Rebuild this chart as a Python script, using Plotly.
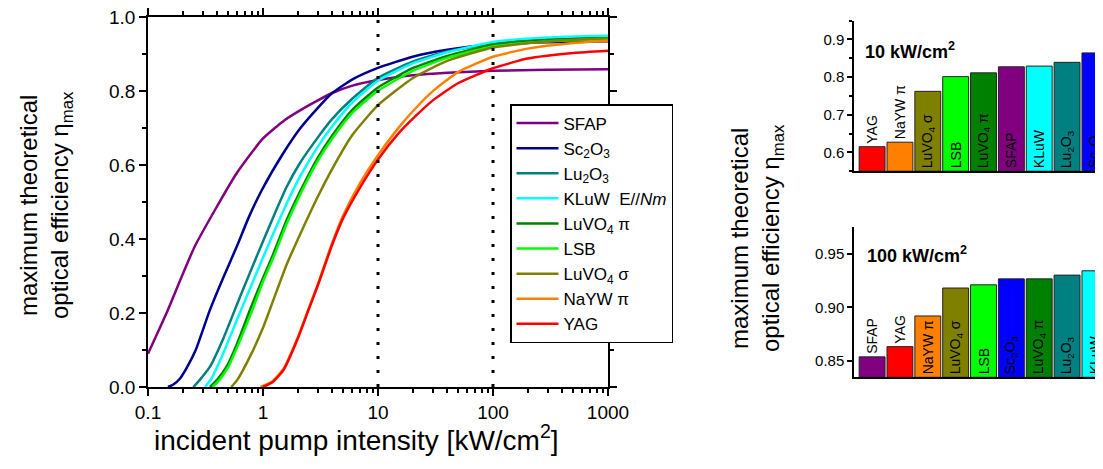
import plotly.graph_objects as go

W, H = 1103, 469
OFF = 8  # default body margin of the html page
FONT = "Liberation Sans, Arial, sans-serif"

# ---- main chart: eta_max vs incident pump intensity (kW/cm^2) ----
sfap_x = [0.1, 0.145, 0.255, 0.59, 1.0, 1.55, 2.1, 3, 4, 6, 10, 20, 40, 100, 300, 1000]
sfap_y = [0.09, 0.2, 0.38, 0.578, 0.672, 0.722, 0.748, 0.775, 0.795, 0.815, 0.83, 0.843, 0.85, 0.855, 0.858, 0.859]

sc2o3_x = [0.149, 0.165, 0.19, 0.22, 0.26, 0.345, 0.45, 0.59, 0.75, 0.975, 1.5, 2.1, 3, 4, 6, 10, 20, 40, 100, 300, 1000]
sc2o3_y = [0.0, 0.006, 0.023, 0.055, 0.10, 0.208, 0.295, 0.379, 0.458, 0.532, 0.632, 0.699, 0.755, 0.795, 0.832, 0.863, 0.893, 0.912, 0.926, 0.932, 0.935]

lu2o3_x = [0.248, 0.28, 0.346, 0.45, 0.632, 0.9, 1.23, 1.6, 2.09, 3, 4, 6, 10, 20, 40, 100, 300, 1000]
lu2o3_y = [0.0, 0.018, 0.055, 0.13, 0.244, 0.36, 0.46, 0.54, 0.605, 0.675, 0.725, 0.78, 0.836, 0.88, 0.907, 0.929, 0.94, 0.945]

kluw_x = [0.313, 0.36, 0.451, 0.6, 0.72, 1.0, 1.23, 1.6, 2.09, 3, 4, 6, 10, 20, 40, 100, 300, 1000]
kluw_y = [0.0, 0.025, 0.091, 0.185, 0.244, 0.35, 0.415, 0.495, 0.568, 0.65, 0.705, 0.77, 0.828, 0.875, 0.905, 0.933, 0.945, 0.95]

luvo4pi_x = [0.346, 0.4, 0.482, 0.6, 0.77, 1.0, 1.23, 1.6, 2.09, 3, 4, 6, 10, 20, 40, 100, 300, 1000]
luvo4pi_y = [0.0, 0.02, 0.055, 0.12, 0.208, 0.295, 0.36, 0.45, 0.527, 0.62, 0.68, 0.75, 0.81, 0.862, 0.895, 0.926, 0.938, 0.943]

lsb_x = [0.365, 0.42, 0.5, 0.62, 0.8, 1.0, 1.25, 1.6, 2.1, 3, 4, 6, 10, 20, 40, 100, 300, 1000]
lsb_y = [0.0, 0.02, 0.055, 0.12, 0.205, 0.285, 0.355, 0.44, 0.52, 0.612, 0.672, 0.742, 0.801, 0.855, 0.89, 0.921, 0.934, 0.94]

luvo4s_x = [0.53, 0.6, 0.77, 1.0, 1.23, 1.6, 2.09, 3, 4, 6, 10, 20, 40, 100, 300, 1000]
luvo4s_y = [0.0, 0.02, 0.082, 0.16, 0.235, 0.33, 0.411, 0.515, 0.59, 0.682, 0.762, 0.835, 0.882, 0.918, 0.935, 0.943]

naywpi_x = [0.95, 1.2, 1.5, 2.0, 2.5, 3.0, 4.0, 5.0, 7.0, 10, 15, 20, 30, 50, 100, 200, 500, 1000]
naywpi_y = [0.0, 0.015, 0.048, 0.133, 0.213, 0.278, 0.39, 0.465, 0.552, 0.627, 0.70, 0.745, 0.80, 0.852, 0.893, 0.915, 0.93, 0.936]

yag_x = [1.0, 1.2, 1.5, 2.0, 2.5, 3.0, 4.0, 5.0, 7.0, 10, 15, 20, 30, 50, 100, 200, 500, 1000]
yag_y = [0.0, 0.012, 0.045, 0.13, 0.21, 0.275, 0.385, 0.458, 0.54, 0.615, 0.685, 0.725, 0.775, 0.822, 0.862, 0.888, 0.903, 0.909]

curve_names = ["SFAP", "Sc<sub>2</sub>O<sub>3</sub>", "Lu<sub>2</sub>O<sub>3</sub>",
               "KLuW  E//<i>Nm</i>", "LuVO<sub>4</sub> π", "LSB",
               "LuVO<sub>4</sub> σ", "NaYW π", "YAG"]
curve_colors = ["#800080", "#000090", "#008080", "#00FFFF", "#008000",
                "#00FF00", "#808000", "#FF8000", "#FF0000"]
curve_x = [sfap_x, sc2o3_x, lu2o3_x, kluw_x, luvo4pi_x, lsb_x, luvo4s_x, naywpi_x, yag_x]
curve_y = [sfap_y, sc2o3_y, lu2o3_y, kluw_y, luvo4pi_y, lsb_y, luvo4s_y, naywpi_y, yag_y]

marker_intensities = [10, 100]
main_yticks = [0.0, 0.2, 0.4, 0.6, 0.8, 1.0]
main_xticks = [0.1, 1, 10, 100, 1000]

# ---- bar charts at 10 and 100 kW/cm^2 ----
bars10_names = ["YAG", "NaYW π", "LuVO<sub>4</sub> σ", "LSB", "LuVO<sub>4</sub> π",
                "SFAP", "KLuW", "Lu<sub>2</sub>O<sub>3</sub>", "Sc<sub>2</sub>O<sub>3</sub>"]
bars10_vals = [0.615, 0.627, 0.762, 0.801, 0.811, 0.827, 0.829, 0.839, 0.864]
bars10_colors = ["#FF0000", "#FF8000", "#808000", "#00FF00", "#008000",
                 "#800080", "#00FFFF", "#008080", "#0000FF"]

bars100_names = ["SFAP", "YAG", "NaYW π", "LuVO<sub>4</sub> σ", "LSB",
                 "Sc<sub>2</sub>O<sub>3</sub>", "LuVO<sub>4</sub> π", "Lu<sub>2</sub>O<sub>3</sub>", "KLuW"]
bars100_vals = [0.854, 0.8635, 0.892, 0.918, 0.921, 0.9265, 0.9265, 0.930, 0.934]
bars100_colors = ["#800080", "#FF0000", "#FF8000", "#808000", "#00FF00",
                  "#0000FF", "#008000", "#008080", "#00FFFF"]

top_range = [0.55, 0.95]
bot_range = [0.835, 0.975]


def px(v):
    return (v - OFF) / W


def py(v):
    return 1 - (v - OFF) / H


fig = go.Figure()

for name, color, xs, ys in zip(curve_names, curve_colors, curve_x, curve_y):
    fig.add_trace(go.Scatter(x=xs, y=ys, name=name, mode="lines",
                             line=dict(color=color, width=2.5, shape="spline", smoothing=0.5),
                             xaxis="x", yaxis="y"))

for xi in marker_intensities:
    fig.add_trace(go.Scatter(x=[xi, xi], y=[0, 1], mode="lines", showlegend=False,
                             line=dict(color="black", width=3, dash="3px,11px"),
                             xaxis="x", yaxis="y"))


def bar_trace(names, vals, colors, rng, ax, n_out):
    base = rng[0]
    return go.Bar(
        x=list(range(len(vals))), y=[v - base for v in vals], base=base,
        text=names, textangle=-90,
        textposition=["outside"] * n_out + ["inside"] * (len(vals) - n_out),
        insidetextanchor="start", constraintext="none",
        textfont=dict(family=FONT, size=14, color="black"),
        marker=dict(color=colors, line=dict(color="#222222", width=1)),
        width=0.93, showlegend=False, cliponaxis=False,
        xaxis="x" + ax, yaxis="y" + ax)


fig.add_trace(bar_trace(bars10_names, bars10_vals, bars10_colors, top_range, "2", 2))
fig.add_trace(bar_trace(bars100_names, bars100_vals, bars100_colors, bot_range, "3", 2))

axis_common = dict(showline=True, linecolor="black", linewidth=1.5, ticks="outside",
                   tickcolor="black", tickwidth=1.5, showgrid=False, zeroline=False,
                   automargin=False, ticklabeloverflow="allow",
                   tickfont=dict(family=FONT, size=19, color="black"))
bar_xaxis = dict(showline=True, linecolor="black", linewidth=1.5, showticklabels=False,
                 ticks="", showgrid=False, zeroline=False, automargin=False,
                 range=[-0.65, 8.29], domain=[px(854), px(1103)])

fig.update_layout(
    width=W, height=H, margin=dict(l=0, r=0, t=0, b=0, pad=0),
    paper_bgcolor="white", plot_bgcolor="white",
    font=dict(family=FONT, color="black"),
    xaxis=dict(axis_common, type="log", range=[-1, 3], domain=[px(148), px(608)],
               tickvals=main_xticks, ticktext=[f"{v:g}" for v in main_xticks],
               ticklen=7, mirror="allticks",
               minor=dict(ticks="outside", ticklen=4, tickcolor="black", dtick="D1"),
               anchor="y"),
    yaxis=dict(axis_common, range=[0, 1.0005], domain=[py(387), py(17)],
               tickvals=main_yticks, tickformat=".1f", ticklen=7, mirror="allticks",
               minor=dict(ticks="outside", ticklen=4, tickcolor="black", dtick=0.1),
               anchor="x"),
    xaxis2=dict(bar_xaxis, anchor="y2"),
    yaxis2=dict(axis_common, range=top_range, domain=[py(171.2), py(20.5)],
                tickvals=[0.6, 0.7, 0.8, 0.9], tickformat=".1f", ticklen=5,
                tickfont=dict(family=FONT, size=15, color="black"),
                minor=dict(ticks="outside", ticklen=3, tickcolor="black", dtick=0.05),
                anchor="x2"),
    xaxis3=dict(bar_xaxis, anchor="y3"),
    yaxis3=dict(axis_common, range=bot_range, domain=[py(377.3), py(226.7)],
                tickvals=[0.85, 0.90, 0.95], tickformat=".2f", ticklen=5,
                tickfont=dict(family=FONT, size=15, color="black"),
                anchor="x3"),
    legend=dict(x=px(510), y=py(104), xanchor="left", yanchor="top",
                bgcolor="white", bordercolor="black", borderwidth=1.5,
                font=dict(family=FONT, size=17, color="black"),
                tracegroupgap=0, itemwidth=42),
    bargap=0.07,
)

ann = dict(xref="paper", yref="paper", showarrow=False, xanchor="center", yanchor="middle")
fig.add_annotation(ann, x=px(356), y=py(438), text="incident pump intensity [kW/cm<sup>2</sup>]",
                   font=dict(family=FONT, size=28, color="black"))
fig.add_annotation(ann, x=px(46), y=py(205), textangle=-90,
                   text="maximum theoretical<br>optical efficiency η<sub>max</sub>",
                   font=dict(family=FONT, size=24, color="black"))
fig.add_annotation(ann, x=px(757), y=py(238), textangle=-90,
                   text="maximum theoretical<br>optical efficiency η<sub>max</sub>",
                   font=dict(family=FONT, size=24, color="black"))
fig.add_annotation(ann, x=px(863), y=py(50), xanchor="left",
                   text="<b>10 kW/cm<sup>2</sup></b>", font=dict(family=FONT, size=18, color="black"))
fig.add_annotation(ann, x=px(865), y=py(254), xanchor="left",
                   text="<b>100 kW/cm<sup>2</sup></b>", font=dict(family=FONT, size=18, color="black"))

fig.write_html("out.html")
